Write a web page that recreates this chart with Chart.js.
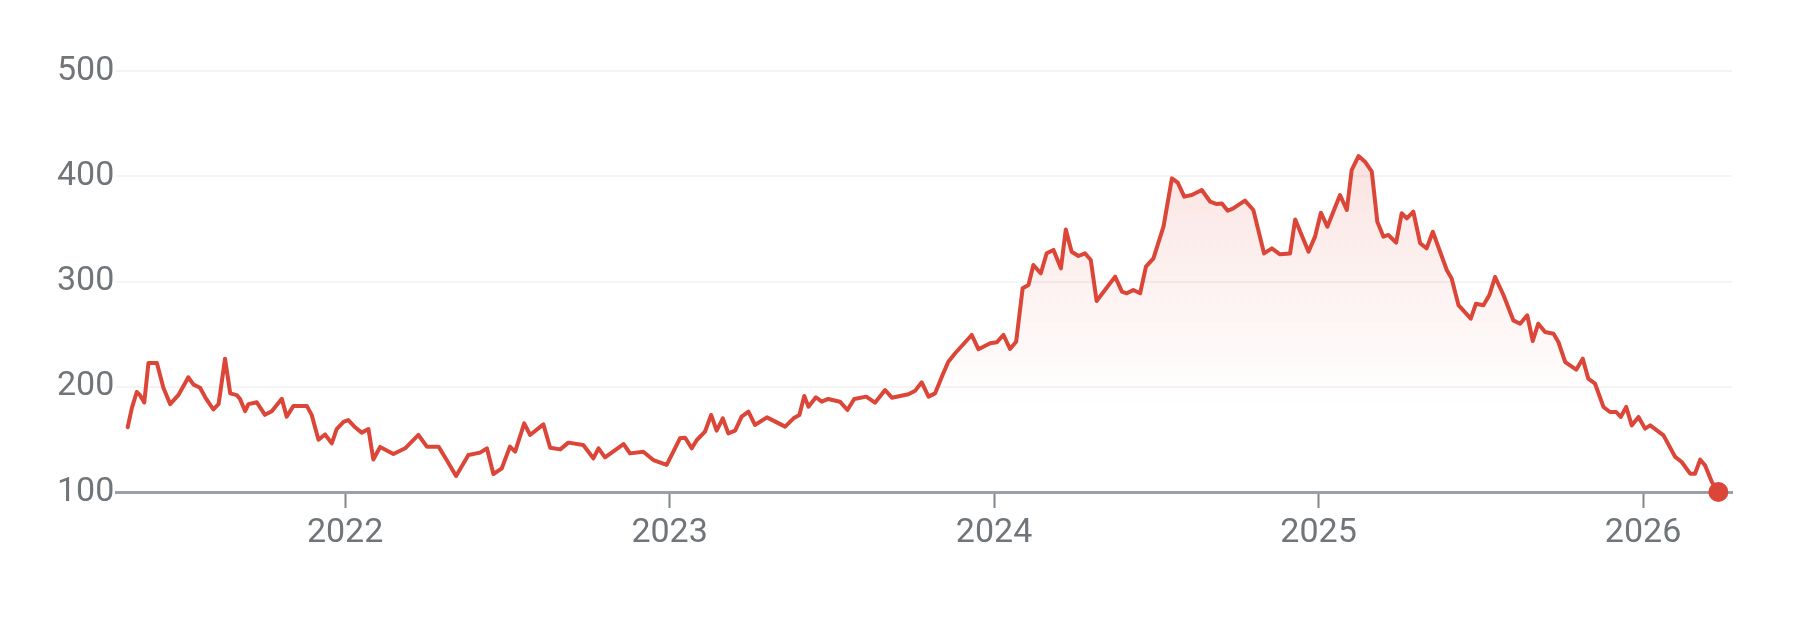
<!DOCTYPE html>
<html>
<head>
<meta charset="utf-8">
<script src="https://cdn.jsdelivr.net/npm/chart.js@4/dist/chart.umd.min.js"></script>
<style>
  html, body { margin: 0; padding: 0; background: #ffffff; }
  #wrap { width: 1802px; height: 624px; position: relative; }
</style>
</head>
<body>
<div id="wrap"><canvas id="c" width="1802" height="624"></canvas></div>
<script>
// Dates as decimal years
const dates = [
  2021.330, 2021.343, 2021.358, 2021.368, 2021.381, 2021.394, 2021.420, 2021.440, 2021.461, 2021.486,
  2021.517, 2021.533, 2021.553, 2021.569, 2021.594, 2021.610, 2021.615, 2021.630, 2021.646, 2021.666,
  2021.676, 2021.692, 2021.702, 2021.728, 2021.753, 2021.774, 2021.805, 2021.820, 2021.841, 2021.882,
  2021.897, 2021.918, 2021.938, 2021.959, 2021.974, 2021.995, 2022.010, 2022.031, 2022.051, 2022.072,
  2022.087, 2022.108, 2022.149, 2022.185, 2022.226, 2022.252, 2022.288, 2022.313, 2022.342, 2022.380,
  2022.416, 2022.437, 2022.457, 2022.483, 2022.508, 2022.524, 2022.552, 2022.570, 2022.611, 2022.632,
  2022.663, 2022.688, 2022.734, 2022.765, 2022.781, 2022.801, 2022.858, 2022.878, 2022.919, 2022.950,
  2022.991, 2023.032, 2023.048, 2023.068, 2023.084, 2023.109, 2023.128, 2023.145, 2023.164, 2023.181,
  2023.202, 2023.222, 2023.243, 2023.263, 2023.300, 2023.356, 2023.382, 2023.400, 2023.415, 2023.428,
  2023.451, 2023.469, 2023.489, 2023.525, 2023.548, 2023.569, 2023.606, 2023.633, 2023.664, 2023.685,
  2023.736, 2023.757, 2023.777, 2023.798, 2023.818, 2023.839, 2023.859, 2023.880, 2023.931, 2023.952,
  2023.988, 2024.008, 2024.029, 2024.049, 2024.068, 2024.088, 2024.106, 2024.121, 2024.144, 2024.162,
  2024.183, 2024.206, 2024.221, 2024.239, 2024.260, 2024.280, 2024.298, 2024.316, 2024.373, 2024.394,
  2024.409, 2024.429, 2024.450, 2024.468, 2024.491, 2024.522, 2024.548, 2024.566, 2024.586, 2024.609,
  2024.640, 2024.666, 2024.686, 2024.702, 2024.720, 2024.737, 2024.773, 2024.799, 2024.832, 2024.856,
  2024.881, 2024.912, 2024.928, 2024.969, 2024.989, 2025.007, 2025.027, 2025.066, 2025.087, 2025.102,
  2025.123, 2025.143, 2025.164, 2025.181, 2025.200, 2025.215, 2025.239, 2025.256, 2025.272, 2025.292,
  2025.313, 2025.333, 2025.352, 2025.395, 2025.410, 2025.431, 2025.469, 2025.485, 2025.508, 2025.526,
  2025.544, 2025.570, 2025.600, 2025.621, 2025.643, 2025.660, 2025.677, 2025.698, 2025.724, 2025.739,
  2025.760, 2025.794, 2025.814, 2025.831, 2025.852, 2025.878, 2025.898, 2025.917, 2025.931, 2025.948,
  2025.965, 2025.986, 2026.006, 2026.022, 2026.063, 2026.099, 2026.119, 2026.145, 2026.160, 2026.176,
  2026.191, 2026.212, 2026.232
];

const prices = [
  161.5, 180.0, 195.0, 192.0, 185.0, 222.6, 222.6, 199.0, 183.5, 192.0,
  209.0, 202.0, 199.0, 190.0, 178.4, 183.5, 193.7, 226.7, 193.7, 192.0,
  188.5, 176.7, 183.5, 185.2, 173.3, 176.7, 188.5, 171.6, 181.8, 181.8,
  173.3, 149.6, 154.7, 146.2, 159.8, 166.6, 168.3, 161.5, 156.4, 159.8,
  130.9, 142.8, 136.1, 141.5, 154.2, 143.1, 143.1, 130.4, 115.2, 135.2,
  137.4, 141.5, 117.1, 122.5, 143.1, 138.3, 165.2, 154.2, 164.3, 142.1,
  140.5, 146.9, 144.7, 132.0, 141.5, 132.9, 145.6, 136.7, 138.3, 130.4,
  125.7, 151.0, 151.6, 141.5, 149.4, 157.3, 173.2, 158.3, 170.0, 155.7,
  158.3, 171.6, 176.3, 163.7, 170.9, 162.1, 170.0, 173.2, 191.2, 181.1,
  190.0, 185.8, 188.4, 185.8, 177.9, 188.4, 190.6, 184.9, 196.9, 189.6,
  192.8, 196.3, 204.2, 190.6, 193.7, 209.6, 223.8, 231.8, 249.2, 235.6,
  241.3, 242.2, 249.2, 235.9, 242.8, 293.5, 296.7, 315.7, 307.8, 326.8,
  330.0, 312.5, 349.5, 328.3, 324.2, 326.8, 320.4, 281.5, 304.6, 290.4,
  288.8, 291.9, 288.8, 314.1, 322.0, 352.1, 398.0, 393.9, 380.6, 382.2,
  386.9, 375.8, 373.6, 374.2, 367.2, 369.5, 376.8, 367.9, 326.7, 331.5,
  325.8, 326.7, 359.0, 328.3, 342.6, 365.4, 352.1, 382.2, 367.9, 405.9,
  419.2, 413.8, 404.3, 356.8, 342.6, 344.2, 336.9, 364.8, 360.0, 366.3,
  336.3, 331.5, 347.3, 310.9, 302.9, 277.6, 264.7, 278.9, 277.4, 286.9,
  304.3, 286.9, 263.1, 259.9, 267.9, 243.5, 259.9, 252.0, 250.4, 242.5,
  223.5, 216.2, 226.7, 207.7, 202.9, 180.8, 176.0, 176.0, 171.3, 180.8,
  163.3, 171.3, 160.2, 163.3, 153.8, 133.3, 128.5, 117.4, 117.4, 130.7,
  125.3, 109.5, 100.0
];

const yearTicks = [2022, 2023, 2024, 2025, 2026];
const priceTicks = [100, 200, 300, 400, 500];

const RED = 'rgb(219,70,56)';
const LABEL = '#70757a';
const FONT = { family: 'Roboto', size: 34 };

const points = dates.map((d, i) => ({ x: d, y: prices[i] }));
const lastIndex = points.length - 1;

new Chart(document.getElementById('c'), {
  type: 'line',
  data: {
    datasets: [{
      data: points,
      borderColor: RED,
      borderWidth: 4,
      borderJoinStyle: 'round',
      borderCapStyle: 'round',
      tension: 0,
      fill: 'start',
      clip: false,
      backgroundColor: (ctx) => {
        const ca = ctx.chart.chartArea;
        if (!ca) return 'rgba(219,70,56,0)';
        const g = ctx.chart.ctx.createLinearGradient(0, ca.top, 0, ca.bottom);
        g.addColorStop(0, 'rgba(219,70,56,0.22)');
        g.addColorStop(0.35, 'rgba(219,70,56,0.11)');
        g.addColorStop(0.8, 'rgba(219,70,56,0)');
        g.addColorStop(1, 'rgba(219,70,56,0)');
        return g;
      },
      pointRadius: (ctx) => ctx.dataIndex === lastIndex ? 10 : 0,
      pointHoverRadius: (ctx) => ctx.dataIndex === lastIndex ? 10 : 0,
      pointBackgroundColor: RED,
      pointBorderWidth: 0
    }]
  },
  options: {
    responsive: false,
    animation: false,
    events: [],
    layout: { padding: { left: 57, right: 70, top: 71, bottom: 0 } },
    plugins: { legend: { display: false }, tooltip: { enabled: false } },
    scales: {
      x: {
        type: 'linear',
        min: 2021.294,
        max: 2026.274,
        afterBuildTicks: (scale) => { scale.ticks = yearTicks.map(v => ({ value: v })); },
        afterFit: (scale) => { scale.height = 132; },
        grid: {
          drawOnChartArea: false,
          drawTicks: true,
          tickLength: 16,
          tickWidth: 2,
          tickColor: '#80868b'
        },
        border: { display: true, color: '#9aa0a6', width: 3 },
        ticks: {
          color: LABEL,
          font: FONT,
          padding: 5,
          maxRotation: 0,
          autoSkip: false,
          callback: (v) => String(v)
        }
      },
      y: {
        type: 'linear',
        min: 100,
        max: 500,
        afterBuildTicks: (scale) => { scale.ticks = priceTicks.map(v => ({ value: v })); },
        afterFit: (scale) => { scale.width = 59; },
        grid: {
          color: '#f4f4f4',
          lineWidth: 2,
          drawTicks: false
        },
        border: { display: false },
        ticks: {
          color: LABEL,
          font: FONT,
          crossAlign: 'far',
          padding: 0,
          callback: (v) => String(v)
        }
      }
    }
  }
});
</script>
</body>
</html>
